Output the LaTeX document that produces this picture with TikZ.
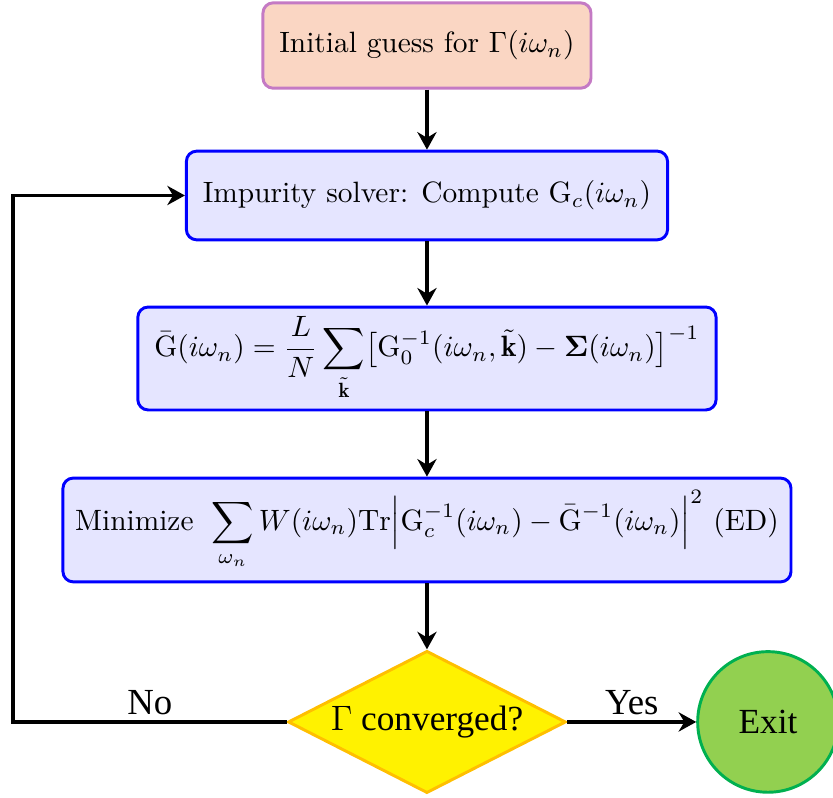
\documentclass[tikz,border=0pt]{standalone}
\usepackage{amsmath}
\usepackage{fontspec}
\newfontfamily\timesfont{Liberation Serif}
\usepackage{xcolor}
\usepackage{tikz}
\usetikzlibrary{positioning,shapes.geometric,arrows.meta}

\definecolor{peach}{RGB}{250,214,195}
\definecolor{lilac}{RGB}{196,122,196}
\definecolor{leaf}{RGB}{146,208,80}
\definecolor{leafline}{RGB}{0,176,80}

\begin{document}
\begin{tikzpicture}[
    startbox/.style={draw=lilac, fill=peach, line width=1pt, rounded corners=3.5pt,
      inner sep=0pt, minimum width=3.92cm, minimum height=1.02cm},
    procbox/.style={draw=blue, fill=blue!10, line width=1pt, rounded corners=3.5pt,
      inner sep=0pt},
    decision/.style={diamond, aspect=1.96, draw=orange!50!yellow, fill=yellow, line width=1pt,
      inner sep=0pt, minimum width=3.32cm, minimum height=1.7cm,
      font=\timesfont\fontsize{12}{14}\selectfont},
    stopnode/.style={circle, draw=leafline, fill=leaf, line width=1pt,
      inner sep=0pt, minimum size=1.68cm, font=\timesfont\fontsize{12}{14}\selectfont},
    flow/.style={-{Stealth[length=2.1mm,width=2.3mm]}, line width=0.04cm},
    edgelabel/.style={font=\timesfont\fontsize{12.5}{14}\selectfont, inner sep=2pt}
  ]
      \useasboundingbox (0, 0) rectangle (9.954, -9.524);

      \coordinate (I) at (5.102, -0.544);
      \coordinate (S) at (5.102, -2.336);
      \coordinate (G) at (5.102, -4.284);
      \coordinate (M) at (5.102, -6.333);
      \coordinate (C) at (5.102, -8.627);
      \coordinate (E) at (9.177, -8.627);
      \coordinate (L) at (0.155, -8.627);

      \node [startbox] (init) at (I) {Initial guess for $\Gamma(i\omega_n)$};
      \node [procbox, minimum width=5.75cm, minimum height=1.06cm] (solver) at (S)
        {Impurity solver: Compute $\mathrm{G}_c(i\omega_n)$};
      \node [procbox, minimum width=6.91cm, minimum height=1.23cm] (gbar) at (G)
        {$\bar{\mathrm{G}}(i\omega_n) = \dfrac{L}{N}\displaystyle\sum_{\tilde{\mathbf{k}}}
          \bigl[\mathrm{G}_0^{-1}(i\omega_n,\tilde{\mathbf{k}}) - \boldsymbol{\Sigma}(i\omega_n)\bigr]^{-1}$};
      \node [procbox, minimum width=8.70cm, minimum height=1.24cm] (minim) at (M)
        {Minimize\ $\;\displaystyle\sum_{\omega_n} W(i\omega_n)\mathrm{Tr}
          \Bigl|\mathrm{G}_c^{-1}(i\omega_n) - \bar{\mathrm{G}}^{-1}(i\omega_n)\Bigr|^2$ (ED)};
      \node [decision] (conv) at (C) {$\Gamma$ converged?};
      \node [stopnode] (exit) at (E) {Exit};

      \draw [flow] (init) -- (solver);
      \draw [flow] (solver) -- (gbar);
      \draw [flow] (gbar) -- (minim);
      \draw [flow] (minim) -- (conv);
      \draw [flow] (conv) -- node [edgelabel, above] {Yes} (exit);
      \draw [flow] (conv.west) -- node [edgelabel, above] {No} (L) |- (solver.west);
    \end{tikzpicture}
\end{document}
